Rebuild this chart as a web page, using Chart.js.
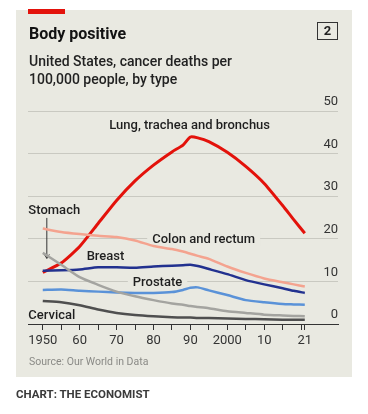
<!DOCTYPE html>
<html>
<head>
<meta charset="utf-8">
<script src="https://cdn.jsdelivr.net/npm/chart.js@4.4.1/dist/chart.umd.min.js"></script>
<style>
  body { margin: 0; background: #fff; font-family: Roboto, "Noto Sans", sans-serif; }
  #wrap { position: relative; width: 368px; height: 414px; }
  #panel { position: absolute; left: 16px; top: 10px; width: 336px; height: 367px; background: #e9e9e1; }
  #redbar { position: absolute; left: 28px; top: 9px; width: 37px; height: 5px; background: #e3120b; }
  #title { position: absolute; left: 13px; top: 16px; font-size: 16px; font-weight: bold; color: #121212; line-height: 16px; }
  #sub { position: absolute; left: 13px; top: 42px; font-size: 14px; font-weight: 500; color: #222; line-height: 18px; }
  #num { position: absolute; left: 301px; top: 12px; width: 19px; height: 16px; border: 1.5px solid #333; font-size: 13px; font-weight: bold; color: #222; text-align: center; line-height: 16px; }
  #source { position: absolute; left: 13px; top: 346px; font-size: 10.5px; color: #8a8a86; line-height: 12px; }
  #credit { position: absolute; left: 16px; top: 387px; font-size: 11.5px; font-weight: bold; color: #3a3a3a; line-height: 14px; }
  canvas { position: absolute; left: 0; top: 0; }
</style>
</head>
<body>
<div id="wrap">
  <div id="panel">
    <canvas id="chart" width="336" height="367"></canvas>
    <div id="title">Body positive</div>
    <div id="sub">United States, cancer deaths per<br>100,000 people, by type</div>
    <div id="num">2</div>
    <div id="source">Source: Our World in Data</div>
  </div>
  <div id="redbar"></div>
  <div id="credit">CHART: THE ECONOMIST</div>
</div>
<script>
// years
const years = [1950, 1955, 1960, 1965, 1970, 1975, 1980, 1985, 1988, 1990, 1992, 1995, 2000, 2005, 2010, 2015, 2018, 2021];

// deaths per 100,000
const lung     = [12.1, 14.3, 18.2, 23.6, 29.0, 33.6, 37.3, 40.4, 42.0, 43.9, 43.7, 42.8, 40.3, 37.0, 33.0, 27.8, 24.5, 21.3];
const colon    = [22.4, 21.6, 21.1, 20.7, 20.4, 19.6, 18.3, 17.6, 17.0, 16.5, 16.0, 15.3, 13.5, 12.0, 10.7, 9.8, 9.3, 8.8];
const breast   = [12.5, 12.6, 12.8, 13.3, 13.3, 13.2, 13.5, 13.7, 13.8, 13.9, 13.6, 12.9, 11.7, 10.3, 9.3, 8.4, 7.8, 7.3];
const prostate = [8.0, 8.1, 7.8, 7.6, 7.4, 7.3, 7.3, 7.5, 8.0, 8.5, 8.6, 7.9, 6.8, 5.6, 5.1, 4.7, 4.6, 4.5];
const stomach  = [16.7, 13.9, 11.0, 9.2, 7.6, 6.5, 5.6, 4.8, 4.5, 4.2, 4.0, 3.7, 3.0, 2.6, 2.2, 2.0, 1.9, 1.8];
const cervical = [5.4, 5.1, 4.4, 3.4, 2.6, 2.1, 1.8, 1.6, 1.5, 1.5, 1.4, 1.4, 1.3, 1.2, 1.1, 1.0, 1.0, 1.0];

const yTicks = [0, 10, 20, 30, 40, 50];
const xTicks = [1950, 1955, 1960, 1965, 1970, 1975, 1980, 1985, 1990, 1995, 2000, 2005, 2010, 2015, 2020, 2021];
const xLabels = {1950: '1950', 1960: '60', 1970: '70', 1980: '80', 1990: '90', 2000: '2000', 2010: '10', 2021: '21'};

const bg = '#e9e9e1';

function pts(vals) {
  return years.map((y, i) => ({x: y, y: vals[i]}));
}

function line(label, vals, color, width) {
  return {
    label: label,
    data: pts(vals),
    borderColor: color,
    borderWidth: width,
    pointRadius: 0,
    tension: 0.2,
    fill: false
  };
}

// series names, placed by data coordinates
const notes = [
  {text: 'Lung, trachea and bronchus', x: 1989.8, y: 46.7, align: 'center'},
  {text: 'Stomach', x: 1946.1, y: 26.6, align: 'left'},
  {text: 'Colon and rectum', x: 1993.6, y: 20.0, align: 'center', box: true},
  {text: 'Breast', x: 1967.0, y: 16.0, align: 'center'},
  {text: 'Prostate', x: 1981.1, y: 9.7, align: 'center', box: true},
  {text: 'Cervical', x: 1946.1, y: 2.1, align: 'left'}
];

const notesPlugin = {
  id: 'notes',
  beforeDatasetsDraw(chart) {
    const ctx = chart.ctx;
    const xs = chart.scales.x, ys = chart.scales.y;
    ctx.save();
    ctx.font = '500 13px Roboto, "Noto Sans", sans-serif';
    ctx.textBaseline = 'middle';
    notes.forEach(n => {
      const px = xs.getPixelForValue(n.x);
      const py = ys.getPixelForValue(n.y);
      const w = ctx.measureText(n.text).width;
      const left = n.align === 'center' ? px - w / 2 : px;
      if (n.box) {
        ctx.fillStyle = bg;
        ctx.fillRect(left - 5, py - 8, w + 10, 16);
      }
      ctx.fillStyle = '#1f1f1f';
      ctx.textAlign = n.align;
      ctx.fillText(n.text, px, py + 0.5);
    });
    // stomach pointer
    const ax = xs.getPixelForValue(1951.1);
    const a0 = ys.getPixelForValue(24.9);
    const a1 = ys.getPixelForValue(15.4);
    ctx.strokeStyle = '#333';
    ctx.lineWidth = 1;
    ctx.beginPath();
    ctx.moveTo(ax, a0);
    ctx.lineTo(ax, a1);
    ctx.stroke();
    ctx.beginPath();
    ctx.moveTo(ax - 2.5, a1 - 4);
    ctx.lineTo(ax, a1);
    ctx.lineTo(ax + 2.5, a1 - 4);
    ctx.stroke();
    ctx.restore();
  }
};

new Chart(document.getElementById('chart'), {
  type: 'line',
  data: {
    datasets: [
      line('Cervical', cervical, '#4f4f4f', 2.5),
      line('Stomach', stomach, '#a4a4a0', 2.5),
      line('Prostate', prostate, '#5a92d8', 2.5),
      line('Breast', breast, '#22318f', 2.5),
      line('Colon and rectum', colon, '#f4a38f', 2.5),
      line('Lung, trachea and bronchus', lung, '#e3120b', 3)
    ]
  },
  options: {
    responsive: false,
    animation: false,
    layout: {padding: {left: 12, right: 14, top: 101, bottom: 23}},
    plugins: {legend: {display: false}, tooltip: {enabled: false}},
    scales: {
      x: {
        type: 'linear',
        min: 1946,
        max: 2030,
        afterBuildTicks: s => { s.ticks = xTicks.map(v => ({value: v})); },
        afterFit: s => { s.height = 30; },
        grid: {drawOnChartArea: false, drawTicks: true, tickLength: 6, color: '#333', lineWidth: 1},
        border: {display: true, color: '#333', width: 1},
        ticks: {
          autoSkip: false,
          maxRotation: 0,
          padding: 3,
          color: '#333',
          font: {family: 'Roboto', size: 13},
          callback: v => xLabels[v] || ''
        }
      },
      y: {
        position: 'right',
        min: 0,
        max: 50,
        afterBuildTicks: s => { s.ticks = yTicks.map(v => ({value: v})); },
        afterFit: s => { s.width = 0; },
        grid: {drawTicks: false, color: '#c9c9c1', lineWidth: 1},
        border: {display: false},
        ticks: {
          mirror: true,
          padding: 0,
          labelOffset: -9,
          color: '#333',
          font: {family: 'Roboto', size: 13}
        }
      }
    }
  },
  plugins: [notesPlugin]
});
</script>
</body>
</html>
